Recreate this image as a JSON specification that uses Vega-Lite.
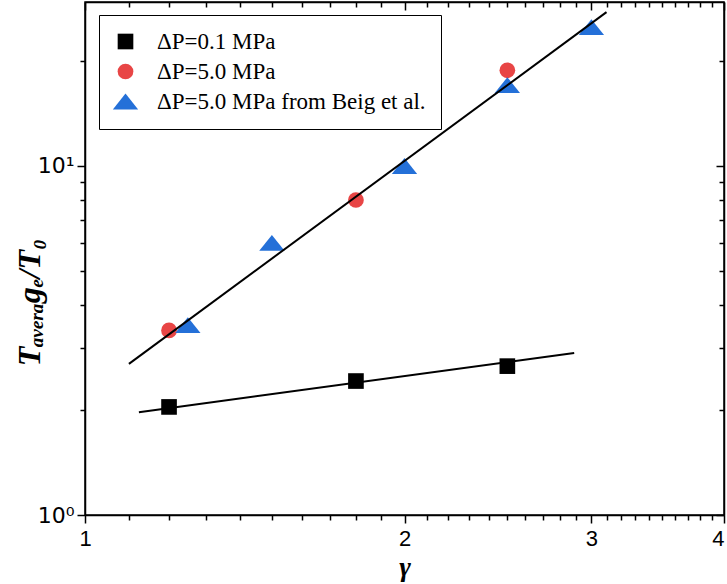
{
  "$schema": "https://vega.github.io/schema/vega-lite/v6.json",
  "width": 639,
  "height": 513,
  "autosize": {"type": "none"},
  "padding": {"left": 85, "top": 2, "right": 3, "bottom": 69},
  "background": "white",
  "config": {"view": {"stroke": "black", "strokeWidth": 1.5}},
  "datasets": {
    "points": [
      {"series": "ΔP=0.1 MPa", "gamma": 1.2, "ratio": 2.04},
      {"series": "ΔP=0.1 MPa", "gamma": 1.8, "ratio": 2.42},
      {"series": "ΔP=0.1 MPa", "gamma": 2.5, "ratio": 2.67},
      {"series": "ΔP=5.0 MPa", "gamma": 1.2, "ratio": 3.38},
      {"series": "ΔP=5.0 MPa", "gamma": 1.8, "ratio": 7.99},
      {"series": "ΔP=5.0 MPa", "gamma": 2.5, "ratio": 18.8},
      {"series": "ΔP=5.0 MPa from Beig et al.", "gamma": 1.25, "ratio": 3.5},
      {"series": "ΔP=5.0 MPa from Beig et al.", "gamma": 1.5, "ratio": 6.02},
      {"series": "ΔP=5.0 MPa from Beig et al.", "gamma": 2.0, "ratio": 10.0},
      {"series": "ΔP=5.0 MPa from Beig et al.", "gamma": 2.5, "ratio": 17.05},
      {"series": "ΔP=5.0 MPa from Beig et al.", "gamma": 3.0, "ratio": 25.0}
    ],
    "fits": [
      {"fit": "high", "gamma": 1.1, "ratio": 2.71},
      {"fit": "high", "gamma": 3.1, "ratio": 27.6},
      {"fit": "low", "gamma": 1.124, "ratio": 1.97},
      {"fit": "low", "gamma": 2.89, "ratio": 2.91}
    ]
  },
  "layer": [
    {
      "data": {"name": "points"},
      "mark": {"type": "point", "filled": true, "opacity": 1, "strokeWidth": 0},
      "encoding": {
        "x": {
          "field": "gamma", "type": "quantitative",
          "scale": {"type": "log", "domain": [1, 4], "nice": false},
          "axis": {
            "orient": "bottom",
            "values": [1, 1.1, 1.2, 1.3, 1.4, 1.5, 1.6, 1.7, 1.8, 1.9, 2, 2.1, 2.2, 2.3, 2.4, 2.5, 2.6, 2.7, 2.8, 2.9, 3, 3.1, 3.2, 3.3, 3.4, 3.5, 3.6, 3.7, 3.8, 3.9, 4],
            "labelExpr": "datum.value == round(datum.value) ? format(datum.value, 'd') : ''",
            "tickSize": {"condition": {"test": "datum.value == round(datum.value)", "value": 8}, "value": 5},
            "labelAlign": {"condition": {"test": "datum.value == 4", "value": "right"}, "value": "center"},
            "tickColor": "black", "tickWidth": 1.5, "domainColor": "black", "domainWidth": 1.5,
            "grid": false, "labelFont": "Liberation Sans", "labelFontSize": 22, "labelColor": "black",
            "labelPadding": 5, "labelFlush": false, "labelOverlap": false,
            "title": "γ", "titleFont": "Liberation Serif", "titleFontSize": 28, "titleFontWeight": "bold",
            "titleFontStyle": "italic", "titleColor": "black", "titlePadding": 4
          }
        },
        "y": {
          "field": "ratio", "type": "quantitative",
          "scale": {"type": "log", "domain": [1, 29.5], "nice": false},
          "axis": {
            "orient": "left",
            "values": [1, 2, 3, 4, 5, 6, 7, 8, 9, 10, 20],
            "labelExpr": "datum.value == 1 ? '10⁰' : (datum.value == 10 ? '10¹' : '')",
            "tickSize": {"condition": {"test": "datum.value == 1 || datum.value == 10", "value": 8}, "value": 5},
            "tickColor": "black", "tickWidth": 1.5, "domainColor": "black", "domainWidth": 1.5,
            "grid": false, "labelFont": "DejaVu Sans", "labelFontSize": 22, "labelColor": "black",
            "labelPadding": 3, "labelFlush": false, "labelOverlap": false,
            "title": "Tₐᵥₑᵣₐgₑ/T₀", "titleFont": "Liberation Serif", "titleFontSize": 32, "titleFontWeight": "bold",
            "titleFontStyle": "italic", "titleColor": "black", "titleX": -56, "titleY": 300,
            "titleAngle": -90, "titleAlign": "center", "titleBaseline": "middle"
          }
        },
        "color": {
          "field": "series", "type": "nominal",
          "scale": {"domain": ["ΔP=0.1 MPa", "ΔP=5.0 MPa", "ΔP=5.0 MPa from Beig et al."], "range": ["#000000", "#E84545", "#2470D8"]},
          "legend": {
            "orient": "none", "legendX": 14, "legendY": 13, "title": null,
            "strokeColor": "black", "fillColor": "white", "padding": 15,
            "labelFont": "Liberation Serif", "labelFontSize": 23, "labelColor": "black", "labelLimit": 400,
            "symbolStrokeWidth": 0, "labelOffset": 20, "rowPadding": 6
          }
        },
        "shape": {
          "field": "series", "type": "nominal",
          "scale": {"domain": ["ΔP=0.1 MPa", "ΔP=5.0 MPa", "ΔP=5.0 MPa from Beig et al."], "range": ["square", "circle", "M-1.6,1L0,-1L1.6,1Z"]}
        },
        "size": {
          "field": "series", "type": "nominal",
          "scale": {"domain": ["ΔP=0.1 MPa", "ΔP=5.0 MPa", "ΔP=5.0 MPa from Beig et al."], "range": [245, 250, 360]}
        }
      }
    },
    {
      "data": {"name": "fits"},
      "mark": {"type": "line", "color": "black", "strokeWidth": 2},
      "encoding": {
        "x": {
          "field": "gamma", "type": "quantitative",
          "scale": {"type": "log", "domain": [1, 4], "nice": false},
          "axis": {
            "orient": "top", "title": null, "labels": false, "grid": false,
            "values": [1, 1.1, 1.2, 1.3, 1.4, 1.5, 1.6, 1.7, 1.8, 1.9, 2, 2.1, 2.2, 2.3, 2.4, 2.5, 2.6, 2.7, 2.8, 2.9, 3, 3.1, 3.2, 3.3, 3.4, 3.5, 3.6, 3.7, 3.8, 3.9, 4],
            "tickSize": {"condition": {"test": "datum.value == round(datum.value)", "value": -8}, "value": -5},
            "tickColor": "black", "tickWidth": 1.5, "domainColor": "black", "domainWidth": 1.5
          }
        },
        "y": {
          "field": "ratio", "type": "quantitative",
          "scale": {"type": "log", "domain": [1, 29.5], "nice": false},
          "axis": {
            "orient": "right", "title": null, "labels": false, "grid": false,
            "values": [1, 2, 3, 4, 5, 6, 7, 8, 9, 10, 20],
            "tickSize": {"condition": {"test": "datum.value == 1 || datum.value == 10", "value": -8}, "value": -5},
            "tickColor": "black", "tickWidth": 1.5, "domainColor": "black", "domainWidth": 1.5
          }
        },
        "detail": {"field": "fit", "type": "nominal"}
      }
    }
  ],
  "resolve": {"axis": {"x": "independent", "y": "independent"}}
}
